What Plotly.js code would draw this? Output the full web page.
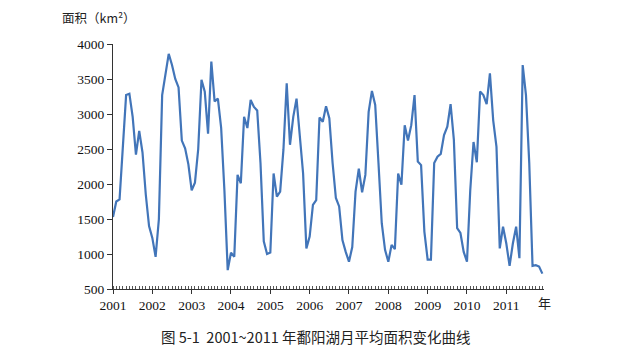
<!DOCTYPE html>
<html><head><meta charset="utf-8">
<script src="https://cdn.plot.ly/plotly-3.0.1.min.js"></script>
<style>html,body{margin:0;padding:0;background:#fff}#chart{width:639px;height:356px}</style>
</head><body><div id="chart"></div>
<script>
// Monthly mean area of Poyang Lake, 2001-01 .. 2011-12 (km²)
const area2001 = [1530, 1750, 1780, 2480, 3270, 3290, 2960, 2420, 2760, 2450, 1850, 1400];
const area2002 = [1230, 960, 1500, 3270, 3600, 3860, 3700, 3500, 3380, 2620, 2510, 2280];
const area2003 = [1910, 2020, 2500, 3490, 3320, 2720, 3750, 3180, 3220, 2800, 1900, 770];
const area2004 = [1020, 960, 2130, 2010, 2960, 2800, 3200, 3100, 3050, 2300, 1180, 1000];
const area2005 = [1020, 2150, 1820, 1890, 2490, 3440, 2560, 2960, 3220, 2630, 2150, 1080];
const area2006 = [1250, 1700, 1770, 2950, 2890, 3110, 2940, 2300, 1800, 1680, 1200, 1030];
const area2007 = [890, 1100, 1890, 2220, 1880, 2130, 3030, 3330, 3130, 2300, 1440, 1060];
const area2008 = [890, 1130, 1070, 2150, 1990, 2840, 2620, 2840, 3270, 2320, 2270, 1320];
const area2009 = [920, 920, 2300, 2390, 2430, 2700, 2820, 3140, 2630, 1370, 1300, 1030];
const area2010 = [890, 1910, 2600, 2310, 3320, 3270, 3140, 3580, 2910, 2530, 1080, 1390];
const area2011 = [1150, 830, 1150, 1390, 940, 3700, 3270, 2300, 830, 840, 820, 720];
const yearLabels = ['2001','2002','2003','2004','2005','2006','2007','2008','2009','2010','2011'];
const yTicks = [500, 1000, 1500, 2000, 2500, 3000, 3500, 4000];

const series = [].concat(area2001, area2002, area2003, area2004, area2005, area2006,
  area2007, area2008, area2009, area2010, area2011);
const months = series.map((_, i) => i);
const yearTickVals = yearLabels.map((_, k) => k * 12);

const serif = '"Liberation Serif", "Times New Roman", serif';
const cjk = '"Noto Sans CJK SC", "Liberation Serif", serif';

const trace = {
  x: months, y: series, type: 'scatter', mode: 'lines',
  line: {color: '#4275B9', width: 2.2}, hoverinfo: 'skip'
};

const layout = {
  width: 639, height: 356,
  margin: {l: 113, r: 95, t: 44, b: 67},
  paper_bgcolor: '#fff', plot_bgcolor: '#fff',
  showlegend: false,
  xaxis: {
    range: [0, 131.5], showgrid: false, zeroline: false,
    showline: true, linecolor: '#333', linewidth: 1,
    tickmode: 'array', tickvals: yearTickVals, ticktext: yearLabels,
    ticks: 'outside', ticklen: 4, tickcolor: '#333',
    minor: {ticks: 'inside', dtick: 1, tick0: 0, ticklen: 3, tickcolor: '#555', showgrid: false},
    tickfont: {family: serif, size: 13.5, color: '#111'}
  },
  yaxis: {
    range: [500, 4000], showgrid: false, zeroline: false,
    showline: true, linecolor: '#333', linewidth: 1,
    tickmode: 'array', tickvals: yTicks, ticktext: yTicks.map(String),
    ticks: 'outside', ticklen: 5, tickcolor: '#333',
    tickfont: {family: serif, size: 13.5, color: '#111'}
  },
  annotations: [
    {xref: 'paper', yref: 'paper', x: 1.0, y: 0, xanchor: 'left', yanchor: 'top', xshift: -8, yshift: -2,
     text: '年', showarrow: false, font: {family: cjk, size: 13, color: '#222'}},
    {xref: 'paper', yref: 'paper', x: 0, y: 1, xanchor: 'left', yanchor: 'bottom', xshift: -53, yshift: 15,
     text: '面积（km²）', showarrow: false, font: {family: cjk, size: 12.5, color: '#222'}},
    {xref: 'paper', yref: 'paper', x: 0.47, y: 0, xanchor: 'center', yanchor: 'top', yshift: -35,
     text: '图 5-1  2001~2011 年鄱阳湖月平均面积变化曲线', showarrow: false,
     font: {family: cjk, size: 14.5, color: '#222'}}
  ]
};

Plotly.newPlot('chart', [trace], layout, {staticPlot: true, displayModeBar: false});
</script>
</body></html>
